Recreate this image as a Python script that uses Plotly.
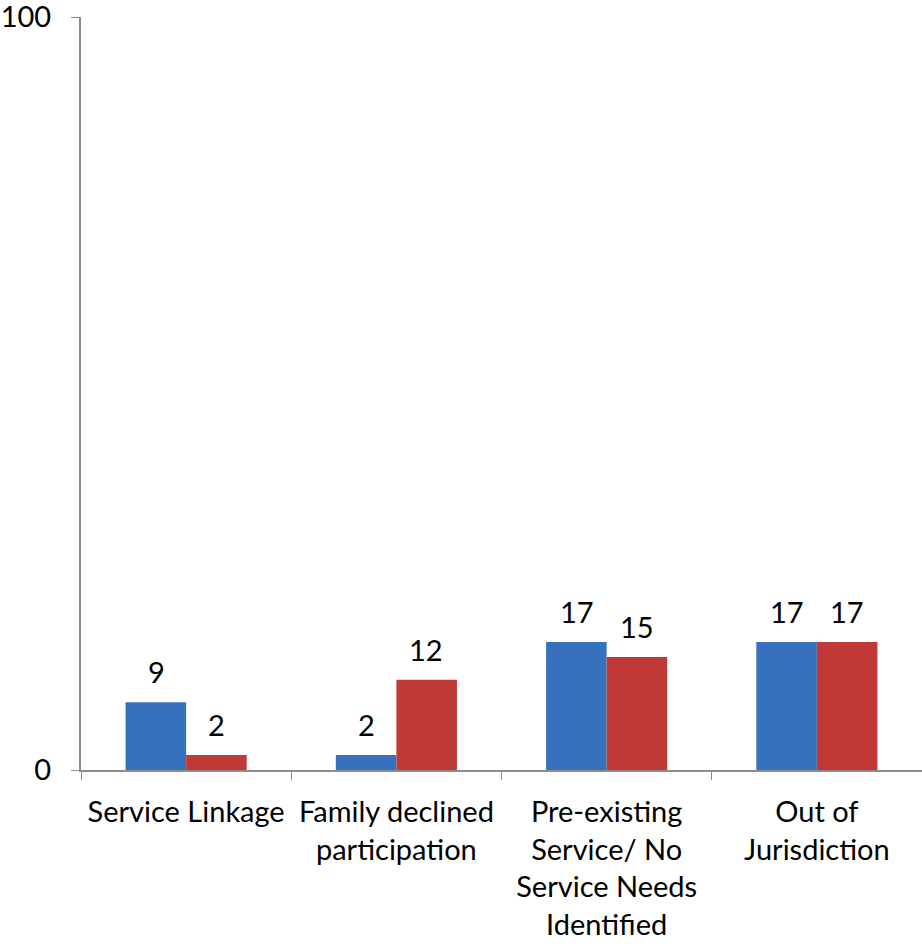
import plotly.graph_objects as go

categories = ["Service Linkage", "Family declined<br>participation",
              "Pre-existing<br>Service/ No<br>Service Needs<br>Identified",
              "Out of<br>Jurisdiction"]
series_a = [9, 2, 17, 17]
series_b = [2, 12, 15, 17]
y_ticks = [0, 100]

FONT = "Lato"
FS = 29
fig = go.Figure()
fig.add_trace(go.Bar(x=categories, y=series_a, marker=dict(color="#3671BE", line=dict(width=0)),
                     name="A"))
fig.add_trace(go.Bar(x=categories, y=series_b, marker=dict(color="#BF3936", line=dict(width=0)),
                     name="B"))

for cat, a, b in zip(categories, series_a, series_b):
    for val, dx in ((a, -30), (b, 30)):
        fig.add_annotation(x=cat, y=val, xref="x", yref="y", text=str(val), showarrow=False,
                           xshift=dx, yshift=11, yanchor="bottom",
                           font=dict(family=FONT, size=FS, color="black"))

fig.update_layout(
    width=922, height=944,
    margin=dict(l=81, r=0, t=17, b=174),
    paper_bgcolor="white", plot_bgcolor="white",
    barmode="group", bargap=0.424, bargroupgap=0,
    showlegend=False,
    font=dict(family=FONT, size=FS, color="black"),
)
fig.update_xaxes(type="category", tickson="boundaries", ticks="outside", ticklen=8,
                 tickcolor="#8C8C8C", showline=True, linecolor="#8C8C8C", linewidth=2,
                 showgrid=False, tickfont=dict(family=FONT, size=FS, color="black"),
                 ticklabelstandoff=15, automargin=False, ticklabeloverflow="allow")
fig.update_yaxes(range=[0, 100], tickvals=y_ticks, ticks="outside", ticklen=8,
                 tickcolor="#8C8C8C", showline=True, linecolor="#8C8C8C", linewidth=2,
                 showgrid=False, zeroline=False, tickfont=dict(family=FONT, size=FS, color="black"),
                 ticklabelstandoff=14, automargin=False, ticklabeloverflow="allow")

fig.write_html("out.html", config={"displayModeBar": False},
               post_script="document.body.style.margin='0';document.body.style.overflow='hidden';")
